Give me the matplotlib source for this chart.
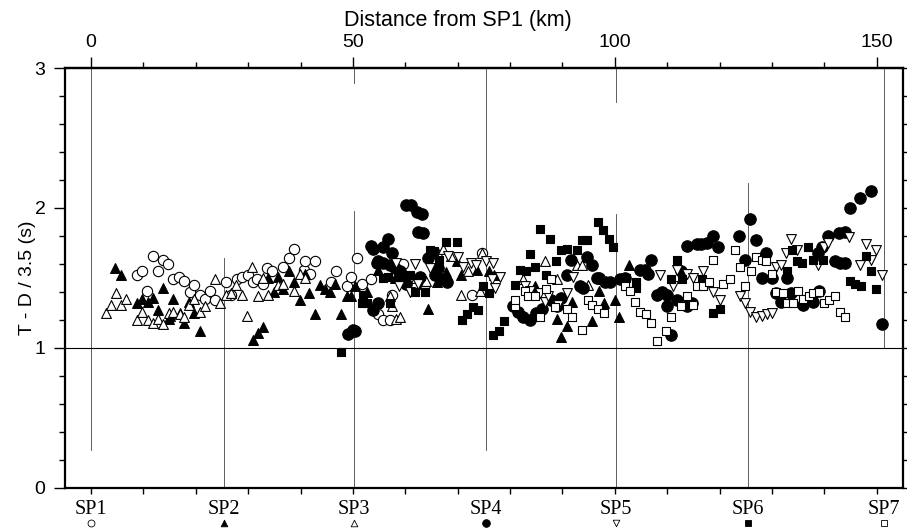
import matplotlib
matplotlib.use("Agg")
import matplotlib.pyplot as plt
import matplotlib.transforms as mtransforms
import numpy as np

# distance (km), T - D/3.5 (s), one list per shot point
sp1 = [(8.8, 1.52), (9.7, 1.55), (10.7, 1.41), (11.8, 1.66), (12.7, 1.55), (13.8, 1.63),
       (14.6, 1.60), (15.7, 1.49), (16.7, 1.51), (17.7, 1.48), (18.9, 1.40), (19.7, 1.45),
       (20.8, 1.38), (21.8, 1.35), (22.7, 1.41), (23.7, 1.34), (25.7, 1.47), (26.7, 1.38),
       (27.8, 1.49), (28.9, 1.51), (29.9, 1.52), (30.9, 1.47), (31.6, 1.49), (32.8, 1.46),
       (33.6, 1.57), (34.5, 1.55), (36.7, 1.58), (37.8, 1.64), (38.8, 1.71), (40.6, 1.56),
       (40.8, 1.62), (41.8, 1.53), (42.7, 1.62), (45.9, 1.47), (46.8, 1.55), (48.8, 1.44),
       (49.7, 1.51), (50.8, 1.64), (51.8, 1.46), (53.5, 1.49), (54.8, 1.24), (55.8, 1.20),
       (57.0, 1.20), (57.4, 1.38), (59.6, 1.60), (72.8, 1.38), (74.6, 1.68)]

sp2 = [(4.6, 1.57), (5.7, 1.52), (8.7, 1.32), (9.7, 1.35), (10.8, 1.33), (11.8, 1.36),
       (12.7, 1.27), (13.7, 1.43), (14.8, 1.21), (15.1, 1.23), (15.7, 1.35), (16.9, 1.25),
       (17.7, 1.18), (18.7, 1.33), (19.7, 1.25), (20.8, 1.12), (30.9, 1.06), (31.8, 1.11),
       (32.8, 1.15), (33.8, 1.50), (34.9, 1.40), (35.7, 1.51), (36.7, 1.42), (37.8, 1.55),
       (38.8, 1.47), (39.8, 1.34), (40.8, 1.53), (41.7, 1.39), (42.7, 1.24), (43.7, 1.45),
       (44.7, 1.42), (45.6, 1.40), (46.6, 1.46), (47.8, 1.24), (48.8, 1.37), (49.7, 1.37),
       (50.4, 1.44), (52.6, 1.40), (54.8, 1.56), (58.0, 1.50), (63.0, 1.46), (64.4, 1.28),
       (66.0, 1.47), (67.7, 1.54), (69.8, 1.62), (70.7, 1.52), (73.6, 1.56), (76.0, 1.55),
       (76.9, 1.52), (84.7, 1.44), (88.9, 1.21), (89.8, 1.08), (90.8, 1.16), (91.8, 1.33),
       (95.7, 1.19), (97.0, 1.41), (98.0, 1.32), (100.0, 1.34), (100.8, 1.22), (102.7, 1.59)]

sp3 = [(2.9, 1.25), (3.8, 1.31), (4.8, 1.39), (5.7, 1.31), (6.7, 1.35), (8.7, 1.20),
       (9.7, 1.26), (10.8, 1.20), (11.9, 1.18), (12.7, 1.21), (13.7, 1.17), (14.8, 1.25),
       (15.7, 1.26), (16.9, 1.24), (17.7, 1.22), (18.7, 1.31), (19.7, 1.35), (20.8, 1.26),
       (21.8, 1.30), (23.7, 1.49), (24.6, 1.32), (25.8, 1.38), (26.7, 1.39), (27.7, 1.45),
       (28.8, 1.38), (29.7, 1.23), (30.7, 1.58), (31.8, 1.37), (32.8, 1.50), (33.8, 1.38),
       (35.7, 1.45), (36.7, 1.46), (38.8, 1.41), (39.8, 1.53), (40.8, 1.50), (57.1, 1.37),
       (57.4, 1.30), (58.3, 1.21), (59.0, 1.22), (62.0, 1.50), (64.0, 1.48), (66.3, 1.68),
       (67.1, 1.71), (68.8, 1.66), (70.7, 1.38), (72.0, 1.55), (74.2, 1.41), (74.6, 1.68),
       (82.5, 1.49), (86.6, 1.62), (88.9, 1.49), (92.7, 1.59), (93.8, 1.59), (94.9, 1.45)]

sp4 = [(49.1, 1.10), (50.1, 1.13), (50.4, 1.12), (53.5, 1.73), (53.8, 1.71), (53.9, 1.27),
       (54.5, 1.61), (54.8, 1.62), (54.8, 1.32), (55.7, 1.72), (55.8, 1.61), (56.7, 1.78),
       (57.1, 1.59), (57.4, 1.68), (58.0, 1.57), (58.9, 1.55), (59.3, 1.50), (60.2, 1.46),
       (60.2, 2.02), (61.0, 2.02), (62.3, 1.97), (63.2, 1.96), (62.5, 1.83), (63.4, 1.82),
       (62.8, 1.51), (64.4, 1.64), (65.6, 1.52), (66.3, 1.57), (66.9, 1.49), (67.9, 1.47),
       (80.6, 1.30), (81.6, 1.26), (82.4, 1.22), (83.8, 1.20), (85.0, 1.25), (86.0, 1.28),
       (87.9, 1.34), (88.9, 1.30), (89.8, 1.36), (90.8, 1.52), (91.7, 1.63), (93.3, 1.44),
       (94.0, 1.43), (94.7, 1.65), (95.7, 1.59), (96.5, 1.50), (97.0, 1.50), (98.1, 1.47),
       (99.0, 1.47), (101.0, 1.49), (101.9, 1.50), (104.8, 1.56), (105.7, 1.56), (106.4, 1.53),
       (106.9, 1.63), (108.0, 1.38), (108.9, 1.40), (109.9, 1.38), (109.9, 1.30), (110.8, 1.09),
       (111.9, 1.34), (112.7, 1.55), (113.7, 1.30), (114.8, 1.32), (113.7, 1.73), (115.6, 1.74),
       (116.5, 1.74), (117.5, 1.75), (118.8, 1.80), (119.7, 1.72), (123.7, 1.80), (124.8, 1.63),
       (125.8, 1.92), (126.9, 1.77), (128.8, 1.68), (128.0, 1.50), (129.9, 1.50), (130.8, 1.39),
       (131.8, 1.33), (132.9, 1.50), (133.7, 1.39), (135.9, 1.31), (137.9, 1.33), (139.0, 1.41),
       (138.8, 1.68), (139.6, 1.72), (140.7, 1.80), (142.0, 1.62), (142.8, 1.82), (142.9, 1.61),
       (143.9, 1.83), (143.9, 1.61), (144.8, 2.00), (146.8, 2.07), (148.8, 2.12), (151.0, 1.17)]

sp5 = [(58.3, 1.61), (58.7, 1.44), (60.9, 1.40), (61.8, 1.60), (62.5, 1.46), (63.7, 1.41),
       (64.7, 1.57), (68.2, 1.66), (70.1, 1.65), (71.0, 1.58), (72.6, 1.61), (73.5, 1.59),
       (75.4, 1.62), (76.8, 1.61), (76.5, 1.49), (77.1, 1.43), (78.0, 1.51), (82.8, 1.44),
       (83.8, 1.41), (85.7, 1.39), (86.6, 1.33), (87.3, 1.37), (89.2, 1.31), (90.8, 1.39),
       (92.0, 1.51), (108.6, 1.52), (111.1, 1.44), (111.8, 1.56), (113.7, 1.53), (114.9, 1.50),
       (116.9, 1.55), (118.8, 1.40), (120.0, 1.34), (123.9, 1.37), (124.8, 1.32), (125.8, 1.26),
       (127.0, 1.22), (128.0, 1.23), (129.0, 1.24), (129.9, 1.25), (130.7, 1.58), (131.8, 1.59),
       (132.6, 1.68), (133.7, 1.78), (134.8, 1.70), (138.8, 1.59), (139.9, 1.72), (140.7, 1.75),
       (144.7, 1.79), (146.8, 1.59), (147.9, 1.74), (148.8, 1.63), (149.8, 1.70), (150.9, 1.52)]

sp6 = [(47.8, 0.97), (51.7, 1.32), (52.0, 1.38), (52.6, 1.32), (53.8, 1.27), (55.8, 1.50),
       (56.7, 1.51), (57.1, 1.32), (60.9, 1.52), (61.8, 1.40), (63.7, 1.40), (64.7, 1.70),
       (65.5, 1.69), (66.5, 1.63), (67.8, 1.76), (69.8, 1.76), (70.9, 1.20), (71.7, 1.24),
       (72.9, 1.29), (73.9, 1.27), (74.8, 1.44), (76.0, 1.39), (76.8, 1.09), (77.9, 1.12),
       (78.8, 1.19), (80.9, 1.45), (81.9, 1.56), (83.0, 1.55), (83.8, 1.67), (84.8, 1.58),
       (85.8, 1.85), (86.8, 1.52), (87.6, 1.78), (88.7, 1.62), (89.8, 1.70), (90.8, 1.71),
       (92.8, 1.70), (93.8, 1.77), (94.7, 1.77), (96.7, 1.90), (97.8, 1.84), (98.9, 1.78),
       (99.7, 1.72), (101.3, 1.49), (102.1, 1.50), (104.0, 1.47), (104.1, 1.43), (110.8, 1.49),
       (111.8, 1.63), (112.9, 1.49), (116.7, 1.49), (116.8, 1.45), (118.8, 1.25), (120.0, 1.28),
       (132.9, 1.55), (133.9, 1.70), (134.8, 1.62), (135.8, 1.61), (136.9, 1.72), (137.9, 1.63),
       (139.8, 1.63), (144.8, 1.48), (145.8, 1.46), (146.9, 1.44), (147.9, 1.66), (148.9, 1.55),
       (149.9, 1.42)]

sp7 = [(80.9, 1.30), (80.9, 1.34), (82.8, 1.41), (83.5, 1.37), (84.8, 1.37), (85.7, 1.22),
       (86.9, 1.42), (87.9, 1.49), (88.5, 1.29), (90.9, 1.28), (91.9, 1.22), (93.8, 1.13),
       (94.9, 1.34), (95.7, 1.31), (96.8, 1.28), (97.9, 1.25), (101.9, 1.44), (102.9, 1.41),
       (103.8, 1.33), (104.8, 1.26), (105.9, 1.24), (106.9, 1.18), (108.0, 1.05), (109.7, 1.12),
       (110.8, 1.22), (112.7, 1.30), (113.8, 1.37), (114.9, 1.31), (115.6, 1.44), (116.9, 1.44),
       (118.0, 1.47), (118.8, 1.63), (120.7, 1.46), (121.9, 1.49), (122.9, 1.70), (123.9, 1.58),
       (124.8, 1.44), (125.9, 1.55), (126.9, 1.65), (128.0, 1.63), (128.9, 1.62), (129.9, 1.53),
       (130.8, 1.40), (132.0, 1.39), (132.9, 1.32), (134.0, 1.32), (135.0, 1.41), (136.0, 1.35),
       (137.1, 1.37), (137.8, 1.39), (139.0, 1.40), (139.9, 1.32), (140.9, 1.34), (142.0, 1.37),
       (142.9, 1.26), (143.9, 1.22)]

sp_names = ["SP1", "SP2", "SP3", "SP4", "SP5", "SP6", "SP7"]
sp_km = [0.0, 25.3, 50.2, 75.4, 100.2, 125.4, 151.3]
# visible pieces of the vertical lines at each shot point (y ranges)
sp_lines = [[(0.27, 3.0)], [(0.0, 1.64)], [(0.0, 1.98), (2.89, 3.0)], [(0.27, 3.0)],
            [(0.0, 1.96), (2.76, 3.0)], [(0.0, 2.18)], [(1.0, 3.0)]]

series = [sp1, sp2, sp3, sp4, sp5, sp6, sp7]
# marker, face colour, size
styles = [("o", "white", 55), ("^", "black", 50), ("^", "white", 50), ("o", "black", 68),
          ("v", "white", 50), ("s", "black", 36), ("s", "white", 36)]

sans = "Liberation Sans"
serif = "Liberation Serif"

fig = plt.figure(figsize=(9.07, 5.28), dpi=100)
ax = fig.add_axes([0.0717, 0.0758, 0.9239, 0.7954])
ax.set_xlim(-4.96, 155.0)
ax.set_ylim(0, 3)

for x, segs in zip(sp_km, sp_lines):
    for y0, y1 in segs:
        ax.plot([x, x], [y0, y1], color="#444444", lw=0.6, zorder=1)
ax.axhline(1.0, color="black", lw=0.8, zorder=1)

for pts, (mk, fc, s) in zip(series, styles):
    xs = [p[0] for p in pts]
    ys = [p[1] for p in pts]
    ax.scatter(xs, ys, marker=mk, s=s, facecolors=fc, edgecolors="black",
               linewidths=0.8, zorder=3)

for sp in ax.spines.values():
    sp.set_linewidth(1.6)

# bottom: plain 10 km ticks, shot point names below
ax.set_xticks(np.arange(0, 151, 10))
ax.tick_params(axis="x", which="both", direction="out", length=4, width=1,
               labelbottom=False)
ax.set_yticks([0, 1, 2, 3])
ax.set_yticks(np.arange(0, 3.01, 0.2), minor=True)
ax.tick_params(axis="y", which="major", direction="out", length=8, width=1,
               labelsize=14, pad=6, right=True)
ax.tick_params(axis="y", which="minor", direction="out", length=4, width=1, right=True)
for lab in ax.get_yticklabels():
    lab.set_fontfamily(sans)
ax.set_ylabel("T - D / 3.5 (s)", fontsize=14, fontfamily=sans, labelpad=-1)

top = ax.secondary_xaxis("top")
top.set_xticks([0, 50, 100, 150])
top.set_xticks(np.arange(0, 151, 10), minor=True)
top.tick_params(which="major", direction="out", length=8, width=1, labelsize=14, pad=4)
top.tick_params(which="minor", direction="out", length=4, width=1)
for lab in top.get_xticklabels():
    lab.set_fontfamily(sans)
top.spines["top"].set_linewidth(1.6)
top.set_xlabel("Distance from SP1 (km)", fontsize=15.5, fontfamily=sans, labelpad=6)
top.xaxis.label.set_x(0.469)

trans = mtransforms.blended_transform_factory(ax.transData, ax.transAxes)
for x, name, (mk, fc, s) in zip(sp_km, sp_names, styles):
    ax.text(x, -0.052, name, transform=trans, ha="center", va="center",
            fontsize=14.5, fontfamily=serif, clip_on=False)
    ax.scatter([x], [-0.083], transform=trans, marker=mk, s=s * 0.45,
               facecolors=fc, edgecolors="black", linewidths=0.6, clip_on=False)

fig.savefig("out.png", dpi=100)
